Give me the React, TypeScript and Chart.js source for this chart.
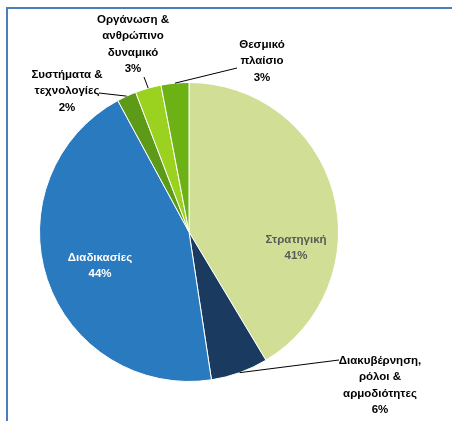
import React, { useEffect, useRef } from "react";
import { Chart, registerables } from "chart.js";

Chart.register(...registerables);

const categories = [
  "Στρατηγική",
  "Διακυβέρνηση, ρόλοι & αρμοδιότητες",
  "Διαδικασίες",
  "Συστήματα & τεχνολογίες",
  "Οργάνωση & ανθρώπινο δυναμικό",
  "Θεσμικό πλαίσιο",
];
const values = [41.4, 6.2, 44.5, 2.1, 2.8, 3.0];
const percentLabels = ["41%", "6%", "44%", "2%", "3%", "3%"];
const labelLines = [
  ["Στρατηγική"],
  ["Διακυβέρνηση,", "ρόλοι &", "αρμοδιότητες"],
  ["Διαδικασίες"],
  ["Συστήματα &", "τεχνολογίες"],
  ["Οργάνωση &", "ανθρώπινο", "δυναμικό"],
  ["Θεσμικό", "πλαίσιο"],
];
const colors = ["#D1DE96", "#1B3A5F", "#2A7AC0", "#5C9A17", "#9BD11F", "#6DB214"];

// label layout: text center (first line) offset from pie center, leader end offset, text color
const labelLayout = [
  { tx: 107, ty: 8, leader: null, color: "#595959" },
  { tx: 191, ty: 129, leader: [150, 128], color: "#000000" },
  { tx: -89, ty: 26, leader: null, color: "#FFFFFF" },
  { tx: -122, ty: -157, leader: [-90, -139], color: "#000000" },
  { tx: -56, ty: -212, leader: [-45, -155], color: "#000000" },
  { tx: 73, ty: -187, leader: [48, -164], color: "#000000" },
];

const labelPlugin = {
  id: "pieLabels",
  afterDatasetsDraw(chart: any) {
    const ctx = chart.ctx;
    const meta = chart.getDatasetMeta(0);
    ctx.save();
    ctx.font = "bold 11.5px 'Liberation Sans', Arial, sans-serif";
    ctx.textAlign = "center";
    ctx.textBaseline = "middle";
    meta.data.forEach((arc: any, i: number) => {
      const { x, y, startAngle, endAngle, outerRadius } = arc.getProps(
        ["x", "y", "startAngle", "endAngle", "outerRadius"],
        true
      );
      const lay = labelLayout[i];
      if (lay.leader) {
        const mid = (startAngle + endAngle) / 2;
        const sx = x + Math.cos(mid) * outerRadius;
        const sy = y + Math.sin(mid) * outerRadius;
        ctx.beginPath();
        ctx.strokeStyle = "#000000";
        ctx.lineWidth = 1;
        ctx.moveTo(sx, sy);
        ctx.lineTo(x + lay.leader[0], y + lay.leader[1]);
        ctx.stroke();
      }
      const lines = [...labelLines[i], percentLabels[i]];
      ctx.fillStyle = lay.color;
      lines.forEach((t, k) => {
        ctx.fillText(t, x + lay.tx, y + lay.ty + k * 16.3);
      });
    });
    ctx.restore();
  },
};

export default function App() {
  const ref = useRef<HTMLCanvasElement | null>(null);
  useEffect(() => {
    if (!ref.current) return;
    const chart = new Chart(ref.current, {
      type: "pie",
      data: {
        labels: categories,
        datasets: [
          {
            data: values,
            backgroundColor: colors,
            borderColor: "#FFFFFF",
            borderWidth: 1,
          },
        ],
      },
      options: {
        responsive: false,
        animation: false,
        layout: { padding: { left: 39, right: 113, top: 82, bottom: 39 } },
        plugins: {
          legend: { display: false },
          tooltip: { enabled: false },
        },
      },
      plugins: [labelPlugin],
    });
    return () => chart.destroy();
  }, []);
  return (
    <div style={{ position: "absolute", left: 0, top: 0, width: 452, height: 421, background: "#fff", overflow: "hidden" }}>
      <div
        style={{
          position: "absolute",
          left: 6,
          top: 7,
          width: 460,
          height: 430,
          borderLeft: "2px solid #4A7EC0",
          borderTop: "2px solid #4A7EC0",
        }}
      />
      <canvas ref={ref} width={452} height={421} style={{ position: "absolute", left: 0, top: 0 }} />
    </div>
  );
}
